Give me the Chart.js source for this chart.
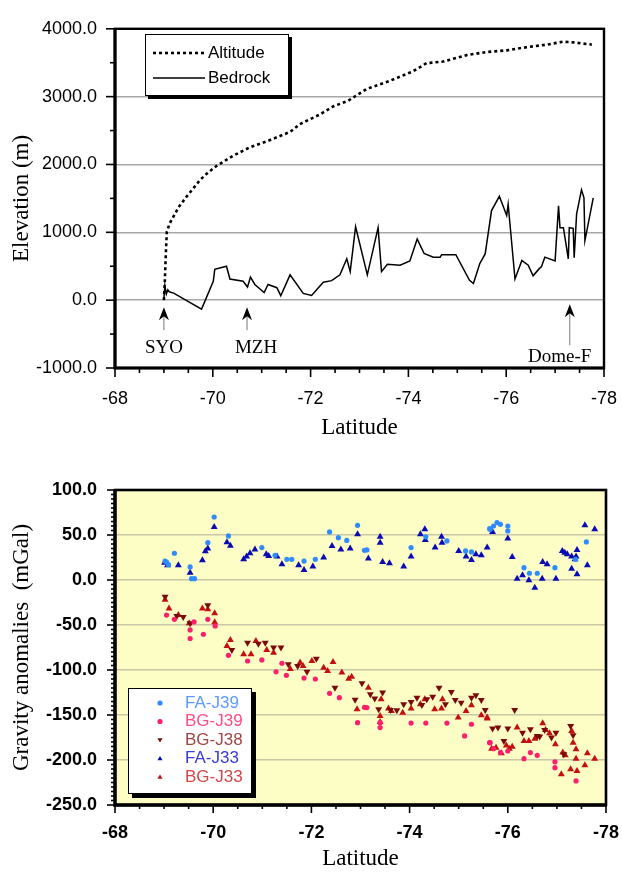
<!DOCTYPE html>
<html>
<head>
<meta charset="utf-8">
<script src="https://cdn.jsdelivr.net/npm/chart.js@4/dist/chart.umd.min.js"></script>
<style>
  body { margin: 0; background: #fff; }
  #wrap { position: relative; width: 622px; height: 873px; }
  canvas { position: absolute; left: 0; }
  #elevChart { top: 0; }
  #gravChart { top: 445px; }
</style>
</head>
<body>
<div id="wrap">
  <canvas id="elevChart" width="622" height="445"></canvas>
  <canvas id="gravChart" width="622" height="428"></canvas>
</div>
<script>
// ---- data: elevation profile ----
const altLat = [-69.0, -69.02, -69.04, -69.06, -69.12, -69.3, -69.47, -69.74, -69.9, -70.08, -70.41, -70.75, -71.1, -71.58, -71.78, -72.19, -72.46, -72.77, -73.15, -73.62, -74.1, -74.37, -74.71, -75.19, -75.6, -76.01, -76.42, -76.83, -77.17, -77.37, -77.75];
const altElev = [0, 300, 700, 1010, 1134, 1370, 1531, 1772, 1880, 1980, 2127, 2250, 2340, 2480, 2595, 2737, 2855, 2940, 3115, 3233, 3375, 3493, 3517, 3612, 3658, 3682, 3729, 3767, 3810, 3800, 3767];

const bedLat = [-69.0, -69.02, -69.05, -69.08, -69.11, -69.2, -69.77, -70.01, -70.04, -70.28, -70.35, -70.62, -70.71, -70.77, -70.86, -71.05, -71.13, -71.31, -71.39, -71.58, -71.85, -72.02, -72.26, -72.43, -72.6, -72.74, -72.81, -72.92, -73.16, -73.38, -73.45, -73.57, -73.83, -74.03, -74.18, -74.32, -74.51, -74.65, -74.68, -74.97, -75.25, -75.33, -75.46, -75.57, -75.7, -75.86, -76.01, -76.04, -76.18, -76.32, -76.45, -76.55, -76.68, -76.72, -76.79, -77.0, -77.07, -77.1, -77.17, -77.27, -77.29, -77.37, -77.39, -77.44, -77.54, -77.59, -77.61, -77.78];
const bedElev = [18, 217, 90, 152, 123, 104, -132, 279, 454, 500, 312, 279, 194, 340, 231, 113, 231, 184, 66, 373, 99, 70, 265, 288, 373, 610, 421, 1082, 373, 1068, 421, 529, 515, 577, 903, 690, 634, 634, 671, 671, 293, 245, 539, 681, 1320, 1531, 1248, 1414, 312, 586, 515, 359, 468, 492, 634, 577, 1390, 1068, 1068, 610, 1068, 1059, 624, 1272, 1626, 1508, 879, 1508];

const elevTicks = [-1000, 0, 1000, 2000, 3000, 4000];
const latTicks = [-68, -70, -72, -74, -76, -78];
const siteLat = [-69.0, -70.7, -77.3];
const siteNames = ['SYO', 'MZH', 'Dome-F'];

// ---- data: gravity anomalies ----
const faJ39Lat = [-69.02, -69.05, -69.09, -69.21, -69.53, -69.56, -69.62, -69.89, -70.02, -70.31, -70.99, -71.26, -71.5, -71.6, -71.85, -72.08, -72.37, -72.55, -72.72, -72.94, -73.08, -73.13, -74.03, -74.33, -74.76, -75.14, -75.26, -75.63, -75.64, -75.71, -75.78, -75.85, -76.0, -76.0, -76.33, -76.44, -76.6, -76.96, -77.38, -77.6];
const faJ39Val = [21, 20, 17, 29.7, 14.5, 1.5, 1.5, 41.5, 70, 49, 36, 27.5, 23, 23, 21, 23, 53.4, 47, 44, 60.8, 33, 33.4, 36, 48, 43.4, 32.3, 31.2, 57, 56.3, 60, 63.8, 61.9, 60, 54.5, 13.7, 7.5, 7.5, 13.7, 23, 42.3];

const bgJ39Lat = [-69.05, -69.21, -69.53, -69.53, -69.61, -69.8, -69.89, -70.04, -70.31, -70.7, -70.99, -71.28, -71.4, -71.49, -71.85, -72.08, -72.37, -72.57, -72.94, -73.08, -73.13, -73.4, -73.4, -74.03, -74.33, -74.76, -75.12, -75.26, -75.63, -75.64, -75.71, -75.85, -76.0, -76.33, -76.46, -76.6, -76.96, -76.96, -77.39];
const bgJ39Val = [-39, -43.7, -55.5, -65, -46.6, -60.3, -43.7, -51, -83.7, -90, -88.8, -102, -92.5, -105.9, -109, -110, -125.9, -130.7, -158.5, -141.5, -141.8, -158.5, -164, -159, -159, -159, -173.3, -160.3, -180.7, -180.7, -187.4, -191.8, -190, -198.5, -191.8, -194.8, -202, -208.5, -223.3];

const bgJ38Lat = [-69.02, -69.26, -69.39, -69.53, -69.89, -70.38, -70.7, -70.92, -71.06, -71.23, -71.38, -71.53, -71.72, -71.91, -72.1, -72.48, -72.89, -73.03, -73.2, -73.29, -73.37, -73.45, -73.61, -73.74, -73.88, -74.03, -74.15, -74.25, -74.35, -74.47, -74.6, -74.73, -74.85, -74.93, -75.05, -75.26, -75.35, -75.46, -75.54, -75.69, -75.8, -75.92, -76.0, -76.14, -76.3, -76.46, -76.6, -76.65, -76.75, -76.89, -76.98, -77.14, -77.28, -77.33];
const bgJ38Val = [-18.5, -40, -41, -48, -28, -77.7, -69.6, -70.7, -69.6, -75, -75, -93.6, -95.5, -102, -87.4, -119.6, -133, -114.8, -127, -131.8, -143.6, -125, -144.4, -144.7, -138, -135.5, -130.7, -139, -132.5, -129.6, -119.6, -138, -124.4, -133.3, -136.3, -130.7, -128, -133.3, -144.4, -165.1, -164, -178.8, -165.1, -144.4, -169.6, -165.9, -173.3, -174, -166.6, -175.1, -169.6, -193.7, -162.2, -172.6];

const faJ33Lat = [-69.01, -69.07, -69.29, -69.53, -69.78, -69.84, -69.89, -70.02, -70.28, -70.35, -70.62, -70.68, -70.75, -70.85, -71.08, -71.13, -71.3, -71.4, -71.74, -71.85, -72.03, -72.25, -72.42, -72.6, -72.79, -72.94, -73.16, -73.4, -73.4, -73.45, -73.59, -73.88, -74.03, -74.22, -74.31, -74.32, -74.52, -74.65, -74.66, -75.0, -75.15, -75.26, -75.35, -75.46, -75.58, -75.69, -76.0, -76.09, -76.19, -76.3, -76.43, -76.55, -76.7, -76.71, -76.8, -76.98, -77.11, -77.16, -77.21, -77.3, -77.3, -77.37, -77.39, -77.41, -77.41, -77.57, -77.62, -77.77];
const faJ33Val = [19.3, 16.3, 16.3, 8, 22, 32, 35, 59, 42, 38, 23, 26, 29.7, 34, 28.6, 26.7, 26, 17.5, 16.3, 11.2, 14.9, 24.9, 37.8, 34, 34.9, 50.8, 23.8, 48, 41.5, 20, 18.6, 14.9, 26, 50.8, 56.3, 44.5, 36, 48, 41.5, 32.3, 26, 22.3, 28.6, 27.5, 36, 53.4, 46, 25.6, 1.5, 5.2, -0.3, -8.5, 1.5, 20, 17.5, 1.5, 32.3, 30.4, 28.6, 26, 12.6, 23, 26, 33.4, 6.3, 60.8, 16.3, 56.3];

const bgJ33Lat = [-69.02, -69.1, -69.29, -69.51, -69.78, -69.89, -70.03, -70.03, -70.28, -70.35, -70.62, -70.77, -70.87, -71.09, -71.23, -71.57, -71.77, -71.83, -72.01, -72.25, -72.33, -72.44, -72.62, -72.76, -72.82, -72.93, -73.16, -73.4, -73.4, -73.42, -73.57, -73.63, -73.86, -74.03, -74.22, -74.31, -74.51, -74.65, -74.67, -74.99, -75.15, -75.26, -75.46, -75.58, -75.58, -75.67, -75.76, -75.87, -75.97, -76.03, -76.09, -76.19, -76.33, -76.43, -76.55, -76.71, -76.77, -76.85, -76.97, -77.09, -77.12, -77.17, -77.28, -77.3, -77.33, -77.39, -77.39, -77.41, -77.57, -77.62, -77.77];
const bgJ33Val = [-22, -31.8, -39, -48, -31.8, -32.5, -37, -47, -73.3, -66.6, -82.5, -82.5, -67.7, -77.7, -80.7, -99, -91.8, -95.5, -90, -97.4, -101, -91, -102.9, -109.6, -107.4, -143.6, -119.6, -151, -157.7, -132.5, -142.9, -145.5, -147.4, -142.9, -138, -132.5, -143.6, -142.9, -132.5, -152.9, -145.5, -139.2, -150.3, -152.9, -154, -187.4, -186.3, -192.6, -184, -187.4, -185.2, -164, -178.8, -178.8, -176.3, -159.2, -166.6, -170.3, -182.5, -215.9, -191.8, -194.8, -210.3, -167.7, -180.7, -188.1, -198.5, -212.2, -205.9, -192.6, -198.5];

const gravTicks = [-250, -200, -150, -100, -50, 0, 50, 100];
const gravNames = ['FA-J39', 'BG-J39', 'BG-J38', 'FA-J33', 'BG-J33'];
const gravColors = ['#2f8cff', '#ff1f6e', '#7a0a0a', '#0a0ab4', '#c40f0f'];
const gravTextColors = ['#5b9bff', '#ff4d82', '#a04646', '#3a3ad8', '#d04848'];

const pts = (xs, ys) => xs.map((x, i) => ({ x: x, y: ys[i] }));

const sansFont = "'Liberation Sans', Arial, sans-serif";
const serifFont = "'Liberation Serif', 'Times New Roman', serif";

// keep the plot edges where the original has them
const noLabelOverhang = s => { s.paddingLeft = 0; s.paddingRight = 0; };

// minor tick marks and plot frame
const frameTicks = {
  id: 'frameTicks',
  beforeDraw(chart, args, o) {
    if (!o.fill) return;
    const { ctx, chartArea: a } = chart;
    ctx.save();
    ctx.fillStyle = o.fill;
    ctx.fillRect(a.left, a.top, a.right - a.left, a.bottom - a.top);
    ctx.restore();
  },
  afterDraw(chart, args, o) {
    const { ctx, chartArea: a, scales } = chart;
    ctx.save();
    ctx.strokeStyle = '#000';
    ctx.lineWidth = 1.6;
    const xs = scales.x, ys = scales.y;
    const nx = Math.round((xs.max - xs.min) / o.xMinor);
    for (let i = 0; i <= nx; i++) {
      const v = xs.min + i * o.xMinor;
      const major = Math.abs(v / o.xMajor - Math.round(v / o.xMajor)) < 1e-6;
      const px = xs.getPixelForValue(v);
      ctx.beginPath();
      ctx.moveTo(px, a.bottom);
      ctx.lineTo(px, a.bottom + (major ? o.majorLen : o.minorLen));
      ctx.stroke();
    }
    const ny = Math.round((ys.max - ys.min) / o.yMinor);
    for (let i = 0; i <= ny; i++) {
      const v = ys.min + i * o.yMinor;
      const major = Math.abs(v / o.yMajor - Math.round(v / o.yMajor)) < 1e-6;
      const py = ys.getPixelForValue(v);
      ctx.beginPath();
      ctx.moveTo(a.left, py);
      ctx.lineTo(a.left - (major ? o.majorLen : o.minorLen), py);
      ctx.stroke();
    }
    ctx.lineWidth = o.frame;
    ctx.strokeRect(a.left, a.top, a.right - a.left, a.bottom - a.top);
    ctx.lineWidth = o.frame + 0.8;
    ctx.beginPath();
    ctx.moveTo(a.left, a.top);
    ctx.lineTo(a.left, a.bottom);
    ctx.lineTo(a.right, a.bottom);
    ctx.stroke();
    ctx.restore();
  }
};

function drawMarker(ctx, style, x, y, r, color) {
  ctx.fillStyle = color;
  ctx.beginPath();
  if (style === 'circle') {
    ctx.arc(x, y, r, 0, Math.PI * 2);
  } else if (style === 'down') {
    ctx.moveTo(x - r, y - r * 0.7);
    ctx.lineTo(x + r, y - r * 0.7);
    ctx.lineTo(x, y + r);
  } else {
    ctx.moveTo(x - r, y + r * 0.7);
    ctx.lineTo(x + r, y + r * 0.7);
    ctx.lineTo(x, y - r);
  }
  ctx.closePath();
  ctx.fill();
}

// legend box with drop shadow, drawn inside the plot
const boxLegend = {
  id: 'boxLegend',
  afterDraw(chart, args, o) {
    const ctx = chart.ctx;
    ctx.save();
    ctx.fillStyle = '#000';
    ctx.fillRect(o.x + o.shadow, o.y + o.shadow, o.w, o.h);
    ctx.fillStyle = '#fff';
    ctx.fillRect(o.x, o.y, o.w, o.h);
    ctx.strokeStyle = '#000';
    ctx.lineWidth = 1;
    ctx.strokeRect(o.x + 0.5, o.y + 0.5, o.w - 1, o.h - 1);
    ctx.font = o.font;
    ctx.textBaseline = 'middle';
    chart.data.datasets.forEach((ds, i) => {
      const y = o.y + o.first + i * o.gap;
      if (o.kind === 'line') {
        ctx.strokeStyle = ds.borderColor;
        ctx.lineWidth = ds.borderWidth;
        ctx.setLineDash(ds.borderDash || []);
        ctx.beginPath();
        ctx.moveTo(o.x + o.sampleX0, y);
        ctx.lineTo(o.x + o.sampleX1, y);
        ctx.stroke();
        ctx.setLineDash([]);
        ctx.fillStyle = '#000';
      } else {
        drawMarker(ctx, ds.markerKind, o.x + o.sampleX0, y, 2.6, ds.backgroundColor);
        ctx.fillStyle = gravTextColors[i];
      }
      ctx.fillText(ds.label, o.x + o.textX, y);
    });
    ctx.restore();
  }
};

// arrows marking the stations
const siteArrows = {
  id: 'siteArrows',
  afterDatasetsDraw(chart, args, o) {
    const { ctx, scales } = chart;
    const y0 = scales.y.getPixelForValue(0);
    ctx.save();
    siteLat.forEach((lat, i) => {
      const x = scales.x.getPixelForValue(lat);
      const tip = y0 + o.tip[i];
      ctx.strokeStyle = '#777';
      ctx.lineWidth = 1;
      ctx.beginPath();
      ctx.moveTo(x, tip + 8);
      ctx.lineTo(x, y0 + o.shaftEnd[i]);
      ctx.stroke();
      ctx.fillStyle = '#000';
      ctx.beginPath();
      ctx.moveTo(x, tip);
      ctx.lineTo(x + 5, tip + 13);
      ctx.lineTo(x, tip + 9);
      ctx.lineTo(x - 5, tip + 13);
      ctx.closePath();
      ctx.fill();
      ctx.font = '19px ' + serifFont;
      ctx.textAlign = 'center';
      ctx.textBaseline = 'middle';
      ctx.fillText(siteNames[i], x + o.textDx[i], y0 + o.textY[i]);
    });
    ctx.restore();
  }
};

const elevChart = new Chart(document.getElementById('elevChart'), {
  type: 'scatter',
  data: {
    datasets: [{
      label: 'Altitude',
      data: pts(altLat, altElev),
      showLine: true,
      borderColor: '#000',
      borderWidth: 2.6,
      borderDash: [3, 3],
      pointRadius: 0
    }, {
      label: 'Bedrock',
      data: pts(bedLat, bedElev),
      showLine: true,
      borderColor: '#000',
      borderWidth: 1.5,
      pointRadius: 0
    }]
  },
  options: {
    responsive: false,
    animation: false,
    layout: { padding: { top: 15, right: 18, left: 0, bottom: 0 } },
    scales: {
      x: {
        type: 'linear',
        min: -78,
        max: -68,
        reverse: true,
        afterFit: s => { s.height = 77; noLabelOverhang(s); },
        afterBuildTicks: s => { s.ticks = latTicks.map(v => ({ value: v })); },
        grid: { display: false, drawTicks: false },
        border: { display: false },
        ticks: {
          autoSkip: false, maxRotation: 0, padding: 20,
          color: '#000', font: { family: sansFont, size: 18 },
          callback: v => String(v)
        },
        title: {
          display: true, text: 'Latitude', color: '#000',
          font: { family: serifFont, size: 23 }, padding: { top: 0, bottom: 3 }
        }
      },
      y: {
        min: -1000,
        max: 4000,
        afterFit: s => { s.width = 115; },
        afterBuildTicks: s => { s.ticks = elevTicks.map(v => ({ value: v })); },
        grid: { color: '#a8a8a8', lineWidth: 1.5, drawTicks: false },
        border: { display: false },
        ticks: {
          padding: 18, color: '#000', font: { family: sansFont, size: 18 },
          callback: v => v.toFixed(1)
        },
        title: {
          display: true, text: 'Elevation (m)', color: '#000',
          font: { family: serifFont, size: 23 }, padding: { top: 8, bottom: 0 }
        }
      }
    },
    plugins: {
      legend: { display: false },
      tooltip: { enabled: false },
      frameTicks: { xMinor: 0.5, xMajor: 2, yMinor: 500, yMajor: 1000, majorLen: 9, minorLen: 5, frame: 2.4 },
      boxLegend: {
        kind: 'line', x: 145, y: 34, w: 144, h: 62, shadow: 3,
        first: 19, gap: 25, sampleX0: 8, sampleX1: 60, textX: 63,
        font: '17px ' + sansFont
      },
      siteArrows: { tip: [7, 7, 4], shaftEnd: [30, 30, 45], textY: [48, 48, 57], textDx: [0, 9, -10] }
    }
  },
  plugins: [frameTicks, boxLegend, siteArrows]
});

const gravLat = [faJ39Lat, bgJ39Lat, bgJ38Lat, faJ33Lat, bgJ33Lat];
const gravVal = [faJ39Val, bgJ39Val, bgJ38Val, faJ33Val, bgJ33Val];
const gravStyles = ['circle', 'circle', 'triangle', 'triangle', 'triangle'];
const gravMarkers = ['circle', 'circle', 'down', 'up', 'up'];

const gravChart = new Chart(document.getElementById('gravChart'), {
  type: 'scatter',
  data: {
    datasets: gravNames.map((name, i) => ({
      label: name,
      data: pts(gravLat[i], gravVal[i]),
      pointStyle: gravStyles[i],
      markerKind: gravMarkers[i],
      rotation: gravMarkers[i] === 'down' ? 180 : 0,
      pointRadius: gravStyles[i] === 'circle' ? 2.6 : 4,
      backgroundColor: gravColors[i],
      borderColor: gravColors[i],
      borderWidth: 0
    }))
  },
  options: {
    responsive: false,
    animation: false,
    layout: { padding: { top: 45, right: 16, left: 0, bottom: 0 } },
    scales: {
      x: {
        type: 'linear',
        min: -78,
        max: -68,
        reverse: true,
        afterFit: s => { s.height = 68; noLabelOverhang(s); },
        afterBuildTicks: s => { s.ticks = latTicks.map(v => ({ value: v })); },
        grid: { display: false, drawTicks: false },
        border: { display: false },
        ticks: {
          autoSkip: false, maxRotation: 0, padding: 17,
          color: '#000', font: { family: sansFont, size: 18, weight: 'bold' },
          callback: v => String(v)
        },
        title: {
          display: true, text: 'Latitude', color: '#000',
          font: { family: serifFont, size: 23 }, padding: { top: 0, bottom: 0 }
        }
      },
      y: {
        min: -250,
        max: 100,
        afterFit: s => { s.width = 115; },
        afterBuildTicks: s => { s.ticks = gravTicks.map(v => ({ value: v })); },
        grid: { color: '#c9c8a6', lineWidth: 1.5, drawTicks: false },
        border: { display: false },
        ticks: {
          padding: 18, color: '#000', font: { family: sansFont, size: 18, weight: 'bold' },
          callback: v => v.toFixed(1)
        },
        title: {
          display: true, text: 'Gravity anomalies  (mGal)', color: '#000',
          font: { family: serifFont, size: 23 }, padding: { top: 8, bottom: 0 }
        }
      }
    },
    plugins: {
      legend: { display: false },
      tooltip: { enabled: false },
      frameTicks: { fill: '#fdfdc6', xMinor: 0.5, xMajor: 2, yMinor: 5, yMajor: 50, majorLen: 8, minorLen: 4, frame: 2.6 },
      boxLegend: {
        kind: 'marker', x: 128, y: 243, w: 124, h: 106, shadow: 4,
        first: 15, gap: 18.5, sampleX0: 32, textX: 57,
        font: '17px ' + sansFont
      }
    }
  },
  plugins: [frameTicks, boxLegend]
});
</script>
</body>
</html>
